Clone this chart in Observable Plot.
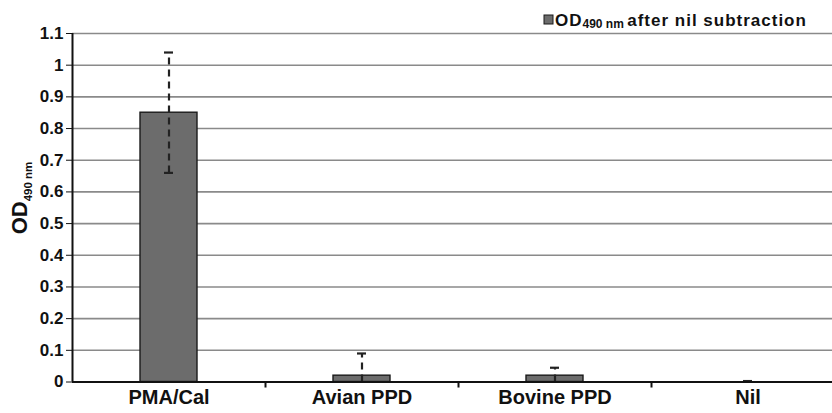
<!DOCTYPE html>
<html>
<head>
<meta charset="utf-8">
<script src="https://cdn.jsdelivr.net/npm/d3@7"></script>
<script src="https://cdn.jsdelivr.net/npm/@observablehq/plot@0.6"></script>
<style>
  html, body { margin: 0; padding: 0; background: #fff; overflow: hidden; }
  #wrap { position: relative; width: 832px; height: 413px; overflow: hidden; }
  svg text { font-family: "Liberation Sans", Arial, sans-serif; font-weight: bold; }
</style>
</head>
<body>
<div id="wrap"></div>
<script>
const categories = ["PMA/Cal", "Avian PPD", "Bovine PPD", "Nil"];
const values = [0.85, 0.02, 0.02, 0];
const errLow = [0.66, 0.0, 0.0, 0.0];
const errHigh = [1.04, 0.09, 0.045, 0.003];
const yTicks = [0, 0.1, 0.2, 0.3, 0.4, 0.5, 0.6, 0.7, 0.8, 0.9, 1, 1.1];
const seriesName = "after nil subtraction";

const data = categories.map((c, i) => ({cat: c, v: values[i], lo: errLow[i], hi: errHigh[i]}));

const W = 832, H = 413, mL = 72, mR = -12, mT = 33, mB = 31.5;
const bw = (W - mR - mL) / categories.length;
const half = bw / 2;

const plot = Plot.plot({
  width: W, height: H,
  marginLeft: mL, marginRight: mR, marginTop: mT, marginBottom: mB,
  style: {fontFamily: "Liberation Sans, Arial, sans-serif", fontWeight: "bold", background: "#fff", overflow: "hidden"},
  x: {domain: categories, padding: 0, label: null},
  y: {domain: [0, 1.1], label: null},
  marks: [
    Plot.gridY(yTicks, {stroke: "#8a8a8a", strokeOpacity: 1, strokeWidth: 1.6}),
    Plot.barY(data.filter(d => d.v > 0), {x: "cat", y: "v", fill: "#6c6c6c", stroke: "#1a1a1a", strokeWidth: 1.4, insetLeft: half - 28.5, insetRight: half - 28.5}),
    Plot.ruleX(data, {x: "cat", y1: "lo", y2: "hi", stroke: "#222", strokeWidth: 2.2, strokeDasharray: "7,5"}),
    Plot.tickY(data.filter(d => d.hi > d.v), {x: "cat", y: "hi", stroke: "#222", strokeWidth: 2.2, insetLeft: half - 4.5, insetRight: half - 4.5}),
    Plot.tickY(data.filter(d => d.lo > 0), {x: "cat", y: "lo", stroke: "#222", strokeWidth: 2.2, insetLeft: half - 4.5, insetRight: half - 4.5}),
    Plot.ruleY([0], {stroke: "#111", strokeWidth: 2}),
    Plot.ruleX([categories[0]], {y1: 0, y2: 1.1, dx: -half, stroke: "#111", strokeWidth: 2}),
    Plot.ruleX(categories, {y1: 0, y2: -0.019, dx: half, stroke: "#111", strokeWidth: 2}),
    Plot.axisY(yTicks, {tickSize: 6, tickPadding: 3, tickFormat: d => String(+d.toFixed(1)), fontSize: 17, fontWeight: "bold", fill: "#111", color: "#111"}),
    Plot.axisX({tickSize: 0, tickPadding: 8, fontSize: 20, fontWeight: "bold", fill: "#111", label: null})
  ]
});
document.getElementById("wrap").appendChild(plot);

// y-axis title with subscript
const svg = d3.select(plot);
const yt = svg.append("text")
  .attr("transform", "translate(27,198) rotate(-90)")
  .attr("text-anchor", "middle")
  .attr("fill", "#111")
  .style("font-size", "22px");
yt.append("tspan").text("OD");
yt.append("tspan").attr("dy", "5").style("font-size", "11.5px").text("490 nm");

// legend
const lg = svg.append("g");
lg.append("rect").attr("x", 544).attr("y", 15).attr("width", 9).attr("height", 9)
  .attr("fill", "#6c6c6c").attr("stroke", "#1a1a1a").attr("stroke-width", 1);
const lt = lg.append("text").attr("x", 555).attr("y", 26).attr("text-anchor", "start").attr("fill", "#111")
  .style("font-size", "17px").style("letter-spacing", "1px");
lt.append("tspan").text("OD");
lt.append("tspan").attr("dy", "2").style("font-size", "12px").style("letter-spacing", "0px").text("490 nm ");
lt.append("tspan").attr("dy", "-2").text(seriesName);
</script>
</body>
</html>
